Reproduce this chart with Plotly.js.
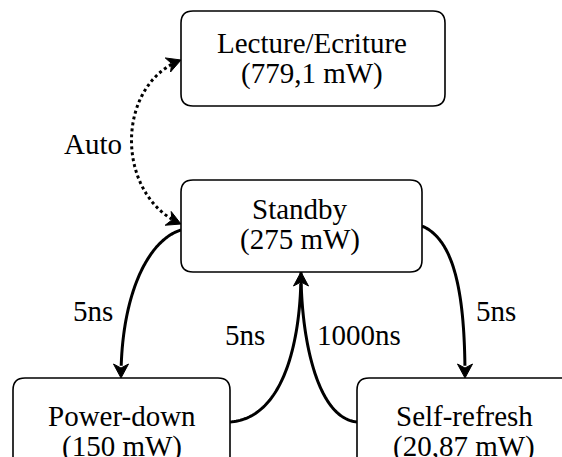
<!DOCTYPE html>
<html><head><meta charset="utf-8">
<script src="https://cdn.plot.ly/plotly-3.0.1.min.js"></script>
<style>html,body{margin:0;padding:0;background:#fff;overflow:hidden}#chart{width:562px;height:457px}</style>
</head><body><div id="chart"></div>
<script>
// ---- content ----
const stateNames = ["Lecture/Ecriture", "Standby", "Power-down", "Self-refresh"];
const statePower = ["(779,1 mW)", "(275 mW)", "(150 mW)", "(20,87 mW)"];
const transitionLabels = ["Auto", "5ns", "5ns", "1000ns", "5ns"];

// ---- geometry (diagram layout, pixels) ----
const boxGeom = [
  {x0: 181, x1: 445, y0: 11, y1: 106, cx: 312, ty: [42.5, 73.5]},
  {x0: 181, x1: 422, y0: 180, y1: 272, cx: 300, ty: [208.5, 239.5]},
  {x0: 13, x1: 230, y0: 378, y1: 490, cx: 122, ty: [416, 446]},
  {x0: 357, x1: 573, y0: 378, y1: 490, cx: 464, ty: [416, 446]}
];
const labelGeom = [[93, 144], [93, 311], [245, 335], [359, 335], [496, 311]];
// cubic curves: [p0, p1, p2, p3], head at start / end, dotted
const edgeGeom = [
  {p: [[181, 60], [115, 85], [115, 195], [181, 224]], hs: true, he: true, dot: true},
  {p: [[181, 230], [148, 240], [121, 295], [121, 378]], hs: false, he: true},
  {p: [[422, 226], [455, 240], [465, 295], [465, 378]], hs: false, he: true},
  {p: [[230, 422], [286, 418], [301, 335], [301, 272]], hs: false, he: true},
  {p: [[357, 422], [316, 418], [301, 335], [301, 272]], hs: false, he: false}
];

const FONT = {family: "Liberation Serif", size: 29, color: "#000000"};
const HL = 14, HW = 7.5, HN = 4;

function bez(p, t) {
  const u = 1 - t;
  const a = u*u*u, b = 3*u*u*t, c = 3*u*t*t, d = t*t*t;
  return [a*p[0][0] + b*p[1][0] + c*p[2][0] + d*p[3][0],
          a*p[0][1] + b*p[1][1] + c*p[2][1] + d*p[3][1]];
}
function dist(a, b) { return Math.hypot(a[0]-b[0], a[1]-b[1]); }
function head(tip, from) {
  let dx = tip[0]-from[0], dy = tip[1]-from[1];
  const l = Math.hypot(dx, dy); dx /= l; dy /= l;
  const nx = -dy, ny = dx;
  const bx = tip[0]-HL*dx, by = tip[1]-HL*dy;
  const pts = [tip, [bx+HW*nx, by+HW*ny], [tip[0]-(HL-HN)*dx, tip[1]-(HL-HN)*dy], [bx-HW*nx, by-HW*ny]];
  return "M" + pts.map(q => q[0].toFixed(2) + "," + q[1].toFixed(2)).join(" L") + " Z";
}

const shapes = [];
edgeGeom.forEach(e => {
  const pts = [];
  for (let i = 0; i <= 80; i++) pts.push(bez(e.p, i/80));
  const s = pts[0], t = pts[pts.length-1];
  const trim = HL - HN;
  const kept = pts.filter(q => (!e.hs || dist(q, s) >= trim) && (!e.he || dist(q, t) >= trim));
  shapes.push({type: "path", xref: "x", yref: "y",
    path: "M" + kept.map(q => q[0].toFixed(2) + "," + q[1].toFixed(2)).join(" L"),
    line: {color: "#000", width: 3, dash: e.dot ? "dot" : "solid"}, fillcolor: "rgba(0,0,0,0)"});
  if (e.hs) shapes.push({type: "path", xref: "x", yref: "y", path: head(s, e.p[1]),
    line: {color: "#000", width: 1}, fillcolor: "#000"});
  if (e.he) shapes.push({type: "path", xref: "x", yref: "y", path: head(t, e.p[2]),
    line: {color: "#000", width: 1}, fillcolor: "#000"});
});
boxGeom.forEach(b => {
  const r = 12;
  const p = `M${b.x0+r},${b.y0} L${b.x1-r},${b.y0} Q${b.x1},${b.y0} ${b.x1},${b.y0+r} L${b.x1},${b.y1-r} Q${b.x1},${b.y1} ${b.x1-r},${b.y1} L${b.x0+r},${b.y1} Q${b.x0},${b.y1} ${b.x0},${b.y1-r} L${b.x0},${b.y0+r} Q${b.x0},${b.y0} ${b.x0+r},${b.y0} Z`;
  shapes.push({type: "path", xref: "x", yref: "y", path: p, line: {color: "#000", width: 1.6}, fillcolor: "#fff"});
});

const annotations = [];
stateNames.forEach((n, i) => {
  const g = boxGeom[i];
  annotations.push({x: g.cx, y: g.ty[0], text: n, showarrow: false, xanchor: "center", yanchor: "middle", font: FONT});
  annotations.push({x: g.cx, y: g.ty[1], text: statePower[i], showarrow: false, xanchor: "center", yanchor: "middle", font: FONT});
});
transitionLabels.forEach((t, i) => {
  annotations.push({x: labelGeom[i][0], y: labelGeom[i][1], text: t, showarrow: false, xanchor: "center", yanchor: "middle", font: FONT});
});

Plotly.newPlot("chart", [], {
  width: 562, height: 457,
  margin: {l: 0, r: 0, t: 0, b: 0, pad: 0},
  paper_bgcolor: "#fff", plot_bgcolor: "#fff",
  xaxis: {range: [0, 562], visible: false, fixedrange: true},
  yaxis: {range: [457, 0], visible: false, fixedrange: true},
  showlegend: false,
  shapes: shapes, annotations: annotations
}, {displayModeBar: false, staticPlot: true});
</script></body></html>
